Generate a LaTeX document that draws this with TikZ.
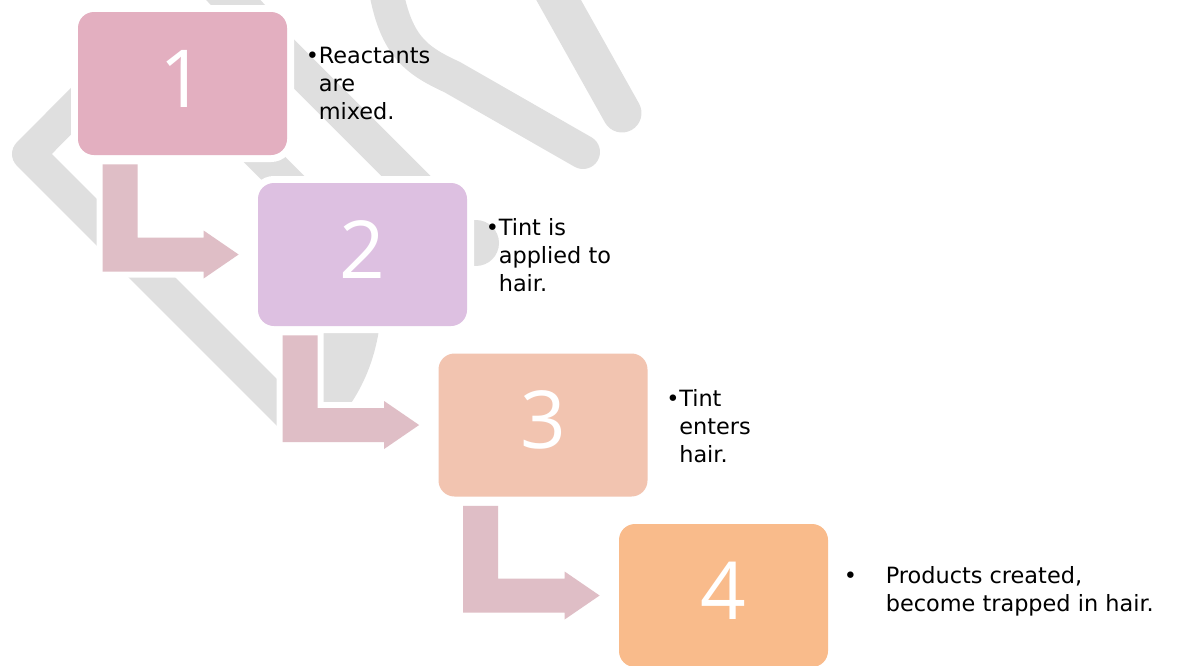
\documentclass[tikz,border=0pt]{standalone}
\usepackage{fontspec}
\setmainfont{DejaVu Sans}
\newfontfamily\numfont{Open Sans}
\usetikzlibrary{calc}

\definecolor{boxone}{HTML}{E3AFC0}
\definecolor{boxtwo}{HTML}{DDC0E1}
\definecolor{boxthree}{HTML}{F2C4B0}
\definecolor{boxfour}{HTML}{F9BB8B}
\definecolor{arrowpink}{HTML}{DFBEC6}
\definecolor{markgrey}{HTML}{DFDFDF}

\begin{document}
\begin{tikzpicture}[x=0.5pt,y=-0.5pt,
  stepbox/.style={rectangle, rounded corners=8pt, minimum width=104.5pt,
    minimum height=71.5pt, inner sep=0pt, text=white, text depth=5pt,
    font=\numfont\fontsize{40}{40}\selectfont,
    preaction={draw=white, line width=7pt}},
  bentarrow/.style={fill=arrowpink, preaction={draw=white, line width=6pt}},
  markband/.style={draw=markgrey},
  note/.style={anchor=base west, inner sep=0pt, font=\fontsize{11.2}{14}\selectfont}]
\useasboundingbox (0,0) rectangle (1181,665);

% faint mark behind the steps
\draw[markband, line width=16.5pt, line join=round] (112,70) -- (28.5,154) -- (300,425.5);
\draw[markband, line width=20pt] (215,-20) -- (270,40);
\draw[markband, line width=17.5pt] (240,10) -- (440,210);
\draw[markband, line width=17pt, line cap=round] (385,-15) .. controls (395,45) and (415,60) .. (452,77) -- (583,152);
\draw[markband, line width=19.5pt, line cap=round] (553,-10) -- (622,113);
\draw[markband, line width=16.5pt] (225,120) -- (300,195);
\draw[markband, line width=23pt, line cap=round] (430,243) -- (476,243);
\draw[markband, line width=27pt] (355,290) .. controls (355,350) and (335,390) .. (300,420);

% steps
\node[stepbox, fill=boxone]   (b1) at (182.5,83.5) {1};
\node[stepbox, fill=boxtwo]   (b2) at (362.5,254.5) {2};
\node[stepbox, fill=boxthree] (b3) at (543,425) {3};
\node[stepbox, fill=boxfour]  (b4) at (723.5,595.5) {4};

% bent arrows
\fill[bentarrow] ($(b1.south west)+(25,9)$) coordinate (s1) -- ++(35,0)
  -- ($(s1 |- b2.west)+(35,-17)$) -- ($(b2.west)+(-54,-17)$) -- ++(0,-7)
  -- ($(b2.west)+(-19,0)$) -- ($(b2.west)+(-54,24)$) -- ++(0,-7)
  -- ($(s1 |- b2.west)+(0,17)$) -- cycle;
\fill[bentarrow] ($(b2.south west)+(25,9)$) coordinate (s2) -- ++(35,0)
  -- ($(s2 |- b3.west)+(35,-17)$) -- ($(b3.west)+(-54,-17)$) -- ++(0,-7)
  -- ($(b3.west)+(-19,0)$) -- ($(b3.west)+(-54,24)$) -- ++(0,-7)
  -- ($(s2 |- b3.west)+(0,17)$) -- cycle;
\fill[bentarrow] ($(b3.south west)+(25,9)$) coordinate (s3) -- ++(35,0)
  -- ($(s3 |- b4.west)+(35,-17)$) -- ($(b4.west)+(-54,-17)$) -- ++(0,-7)
  -- ($(b4.west)+(-19,0)$) -- ($(b4.west)+(-54,24)$) -- ++(0,-7)
  -- ($(s3 |- b4.west)+(0,17)$) -- cycle;

% notes
\node[note] (t1) at ($(b1.east)+(18,-20.5)$)
  {\begin{tabular}[t]{@{}p{6.5pt}@{}l@{}}•&Reactants\\&are\\&mixed.\end{tabular}};
\node[note] (t2) at ($(b2.east)+(18,-19.5)$)
  {\begin{tabular}[t]{@{}p{6.5pt}@{}l@{}}•&Tint is\\&applied to\\&hair.\end{tabular}};
\node[note] (t3) at ($(b3.east)+(18,-19)$)
  {\begin{tabular}[t]{@{}p{6.5pt}@{}l@{}}•&Tint\\&enters\\&hair.\end{tabular}};
\node[note] (t4) at ($(b4.east)+(15,-12.5)$)
  {\begin{tabular}[t]{@{}p{21pt}@{}l@{}}•&Products created,\\&become trapped in hair.\end{tabular}};
\end{tikzpicture}
\end{document}
